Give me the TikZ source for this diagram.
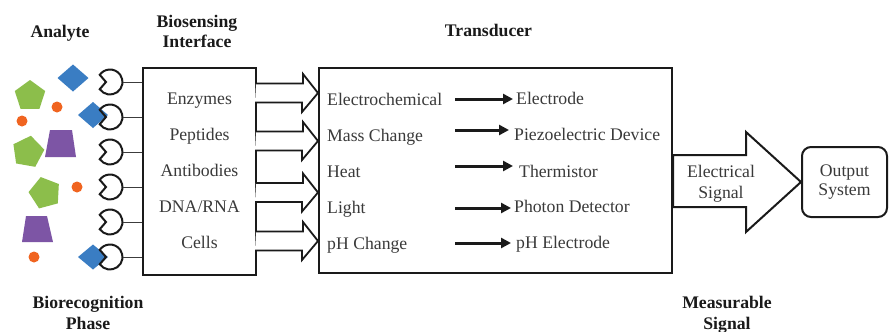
\documentclass[tikz,border=0pt]{standalone}
\usepackage{fontspec}
\setmainfont{Liberation Serif}
\usetikzlibrary{arrows.meta,calc}
\definecolor{ink}{HTML}{1A1A1A}
\definecolor{txt}{HTML}{3A3A3A}
\definecolor{agreen}{HTML}{8CBE4B}
\definecolor{apurple}{HTML}{7D55A5}
\definecolor{ablue}{HTML}{3A7DC3}
\definecolor{aorange}{HTML}{F06420}
\begin{document}
\begin{tikzpicture}[x=1pt,y=-1pt,
  lbl/.style={font=\fontsize{17.7}{20.5}\selectfont, text=txt, inner sep=0pt, text height=11.7pt, text depth=0pt},
  lbltwo/.style={font=\fontsize{17.7}{20.5}\selectfont, text=txt, inner sep=0pt, align=center},
  ttl/.style={lbl, font=\fontsize{17.7}{20.5}\selectfont\bfseries, text=ink},
  ttltwo/.style={lbltwo, font=\fontsize{17.7}{20.5}\selectfont\bfseries, text=ink},
  boxx/.style={draw=ink, line width=2pt, fill=white, inner sep=0pt},
  hollow/.style={draw=ink, line width=1.8pt, fill=white, line join=miter},
  sarrow/.style={draw=ink, line width=3pt, -{Triangle[length=10pt,width=10pt]}},
  rec/.style={draw=ink, line width=2pt},
  recline/.style={draw=ink!85, line width=1pt},
]
\useasboundingbox[fill=white] (0,0) rectangle (889,332);

% ---------- titles ----------
\node[ttl] (tanalyte) at (60,32) {Analyte};
\node[ttltwo] (tbio) at (197,31.5) {Biosensing\\Interface};
\node[ttl] (ttrans) at (488.5,31) {Transducer};
\node[ttltwo] (trec) at (88,313) {Biorecognition\\Phase};
\node[ttltwo] (tmeas) at (727,315) {Measurable\\Signal};

% ---------- analytes ----------
\fill[agreen] ($(30,96)+(-90:16)$) -- ($(30,96)+(-18:16)$) -- ($(30,96)+(54:16)$) -- ($(30,96)+(126:16)$) -- ($(30,96)+(198:16)$) -- cycle;
\fill[agreen] ($(28,152)+(-80:16.5)$) -- ($(28,152)+(-8:16.5)$) -- ($(28,152)+(64:16.5)$) -- ($(28,152)+(136:16.5)$) -- ($(28,152)+(208:16.5)$) -- cycle;
\fill[agreen] ($(45,193)+(-105:16.5)$) -- ($(45,193)+(-33:16.5)$) -- ($(45,193)+(39:16.5)$) -- ($(45,193)+(111:16.5)$) -- ($(45,193)+(183:16.5)$) -- cycle;
\fill[apurple] (50,130) -- (72,130) -- (76,157) -- (45,157) -- cycle;
\fill[apurple] (26,216) -- (47,216) -- (53,242) -- (22,242) -- cycle;
\fill[aorange] (57,107) circle[radius=5.5];
\fill[aorange] (22,121) circle[radius=5.5];
\fill[aorange] (77,187) circle[radius=5.5];
\fill[aorange] (34,257) circle[radius=5.5];
\fill[ablue] (57.5,78) -- (73,64.5) -- (88.5,78) -- (73,91.5) -- cycle;
\fill[ablue] (78,115) -- (93,102) -- (108,115) -- (93,128) -- cycle;
\fill[ablue] (78,257) -- (93,244.5) -- (108,257) -- (93,269.5) -- cycle;

% ---------- boxes ----------
\node[boxx, minimum width=113, minimum height=207] (iface) at (199.5,171.5) {};
\node[boxx, minimum width=353, minimum height=205] (trans) at (495.5,170.5) {};

% ---------- receptors ----------
\foreach \y [count=\i] in {82,117,152,187,222,257}{
  \draw[rec] (110,\y) ++(145:12.5) arc[start angle=145,end angle=-145,radius=12.5] -- (106,\y) -- cycle;
  \coordinate (r\i) at (122.5,\y);
  \draw[recline] (r\i) -- (r\i -| iface.west);
}

% ---------- interface labels ----------
\node[lbl] (e1) at (199.5,99) {Enzymes};
\node[lbl] (e2) at (199.5,135) {Peptides};
\node[lbl] (e3) at (199.5,171) {Antibodies};
\node[lbl] (e4) at (199.5,207) {DNA/RNA};
\node[lbl] (e5) at (199.5,243) {Cells};

% ---------- hollow arrows ----------
\foreach \y in {93,141,192.5,241}{
  \filldraw[hollow] (iface.east |- 0,\y) ++(-1,-9.5) -- ++(47,0) -- ++(0,-9.5) -- (trans.west |- 0,\y) -- ++(-16,19) -- ++(0,-9.5) -- ++(-47,0);
}

% ---------- transducer content ----------
\node[lbl, anchor=west] (m1) at (327,100) {Electrochemical};
\node[lbl, anchor=west] (m2) at (327,136) {Mass Change};
\node[lbl, anchor=west] (m3) at (327,172) {Heat};
\node[lbl, anchor=west] (m4) at (327,208) {Light};
\node[lbl, anchor=west] (m5) at (327,244) {pH Change};

\node[lbl, anchor=west] (d1) at (516,99) {Electrode};
\node[lbl, anchor=west] (d2) at (514,135) {Piezoelectric Device};
\node[lbl, anchor=west] (d3) at (519,172) {Thermistor};
\node[lbl, anchor=west] (d4) at (514,207) {Photon Detector};
\node[lbl, anchor=west] (d5) at (516,243) {pH Electrode};

\coordinate (s1) at (455,99);
\coordinate (s2) at (455,130);
\coordinate (s3) at (455,166);
\coordinate (s4) at (455,208);
\coordinate (s5) at (455,243);
\draw[sarrow] (s1) -- (513,99);
\draw[sarrow] (s2) -- (509,130);
\draw[sarrow] (s3) -- (513,166);
\draw[sarrow] (s4) -- (511,208);
\draw[sarrow] (s5) -- (511,243);

% ---------- output ----------
\node[boxx, rounded corners=9pt, minimum width=85, minimum height=70, text=txt,
      font=\fontsize{17.7}{19.5}\selectfont, align=center] (out) at (844.5,182) {Output\\System};

\filldraw[hollow, line width=2pt] (trans.east |- 0,155) -- (746,155) -- (746,132) -- (out.west |- 0,182) -- (746,232) -- (746,207) -- (trans.east |- 0,207) -- cycle;
\node[lbltwo] (esig) at (721,184) {Electrical\\Signal};
\end{tikzpicture}
\end{document}
